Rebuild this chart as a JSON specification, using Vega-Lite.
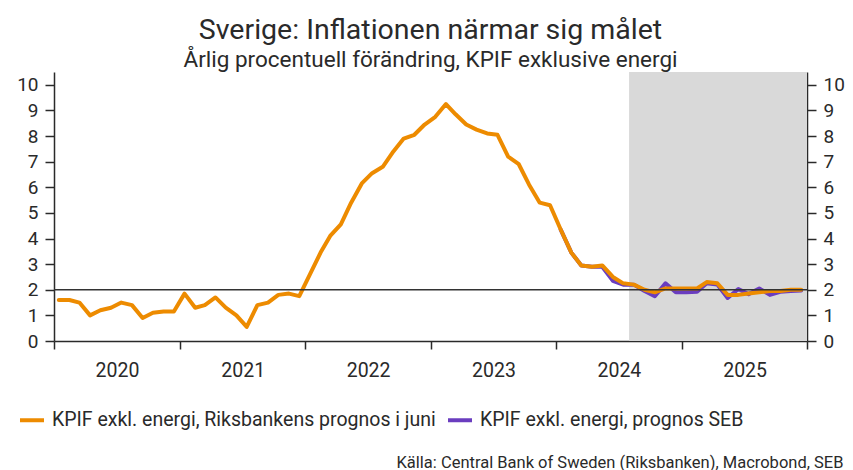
{
  "$schema": "https://vega.github.io/schema/vega-lite/v6.json",
  "width": 753,
  "height": 269,
  "autosize": {"type": "none"},
  "padding": {"left": 54, "top": 72, "right": 46, "bottom": 129},
  "background": "white",
  "title": {
    "text": "Sverige: Inflationen närmar sig målet",
    "subtitle": "Årlig procentuell förändring, KPIF exklusive energi",
    "anchor": "middle",
    "font": "Roboto",
    "fontSize": 28.5,
    "fontWeight": "normal",
    "color": "#2a2a2a",
    "subtitleFont": "Roboto",
    "subtitleFontSize": 22.5,
    "subtitleColor": "#2a2a2a",
    "subtitlePadding": 4,
    "offset": 1
  },
  "config": {"view": {"stroke": null}, "font": "Roboto"},
  "datasets": {
    "shade": [{"start": "2024-08-01", "end": "2026-01-01"}],
    "target": [{"mal": 2}],
    "kpif": [
      {"datum": "2020-01-15", "serie": "KPIF exkl. energi, Riksbankens prognos i juni", "varde": 1.6},
      {"datum": "2020-02-15", "serie": "KPIF exkl. energi, Riksbankens prognos i juni", "varde": 1.6},
      {"datum": "2020-03-15", "serie": "KPIF exkl. energi, Riksbankens prognos i juni", "varde": 1.5},
      {"datum": "2020-04-15", "serie": "KPIF exkl. energi, Riksbankens prognos i juni", "varde": 1.0},
      {"datum": "2020-05-15", "serie": "KPIF exkl. energi, Riksbankens prognos i juni", "varde": 1.2},
      {"datum": "2020-06-15", "serie": "KPIF exkl. energi, Riksbankens prognos i juni", "varde": 1.3},
      {"datum": "2020-07-15", "serie": "KPIF exkl. energi, Riksbankens prognos i juni", "varde": 1.5},
      {"datum": "2020-08-15", "serie": "KPIF exkl. energi, Riksbankens prognos i juni", "varde": 1.4},
      {"datum": "2020-09-15", "serie": "KPIF exkl. energi, Riksbankens prognos i juni", "varde": 0.9},
      {"datum": "2020-10-15", "serie": "KPIF exkl. energi, Riksbankens prognos i juni", "varde": 1.1},
      {"datum": "2020-11-15", "serie": "KPIF exkl. energi, Riksbankens prognos i juni", "varde": 1.15},
      {"datum": "2020-12-15", "serie": "KPIF exkl. energi, Riksbankens prognos i juni", "varde": 1.15},
      {"datum": "2021-01-15", "serie": "KPIF exkl. energi, Riksbankens prognos i juni", "varde": 1.85},
      {"datum": "2021-02-15", "serie": "KPIF exkl. energi, Riksbankens prognos i juni", "varde": 1.3},
      {"datum": "2021-03-15", "serie": "KPIF exkl. energi, Riksbankens prognos i juni", "varde": 1.4},
      {"datum": "2021-04-15", "serie": "KPIF exkl. energi, Riksbankens prognos i juni", "varde": 1.7},
      {"datum": "2021-05-15", "serie": "KPIF exkl. energi, Riksbankens prognos i juni", "varde": 1.3},
      {"datum": "2021-06-15", "serie": "KPIF exkl. energi, Riksbankens prognos i juni", "varde": 1.0},
      {"datum": "2021-07-15", "serie": "KPIF exkl. energi, Riksbankens prognos i juni", "varde": 0.55},
      {"datum": "2021-08-15", "serie": "KPIF exkl. energi, Riksbankens prognos i juni", "varde": 1.4},
      {"datum": "2021-09-15", "serie": "KPIF exkl. energi, Riksbankens prognos i juni", "varde": 1.5},
      {"datum": "2021-10-15", "serie": "KPIF exkl. energi, Riksbankens prognos i juni", "varde": 1.8},
      {"datum": "2021-11-15", "serie": "KPIF exkl. energi, Riksbankens prognos i juni", "varde": 1.85},
      {"datum": "2021-12-15", "serie": "KPIF exkl. energi, Riksbankens prognos i juni", "varde": 1.75},
      {"datum": "2022-01-15", "serie": "KPIF exkl. energi, Riksbankens prognos i juni", "varde": 2.6},
      {"datum": "2022-02-15", "serie": "KPIF exkl. energi, Riksbankens prognos i juni", "varde": 3.45},
      {"datum": "2022-03-15", "serie": "KPIF exkl. energi, Riksbankens prognos i juni", "varde": 4.1},
      {"datum": "2022-04-15", "serie": "KPIF exkl. energi, Riksbankens prognos i juni", "varde": 4.55},
      {"datum": "2022-05-15", "serie": "KPIF exkl. energi, Riksbankens prognos i juni", "varde": 5.4},
      {"datum": "2022-06-15", "serie": "KPIF exkl. energi, Riksbankens prognos i juni", "varde": 6.15},
      {"datum": "2022-07-15", "serie": "KPIF exkl. energi, Riksbankens prognos i juni", "varde": 6.55},
      {"datum": "2022-08-15", "serie": "KPIF exkl. energi, Riksbankens prognos i juni", "varde": 6.8},
      {"datum": "2022-09-15", "serie": "KPIF exkl. energi, Riksbankens prognos i juni", "varde": 7.4},
      {"datum": "2022-10-15", "serie": "KPIF exkl. energi, Riksbankens prognos i juni", "varde": 7.9},
      {"datum": "2022-11-15", "serie": "KPIF exkl. energi, Riksbankens prognos i juni", "varde": 8.05},
      {"datum": "2022-12-15", "serie": "KPIF exkl. energi, Riksbankens prognos i juni", "varde": 8.45},
      {"datum": "2023-01-15", "serie": "KPIF exkl. energi, Riksbankens prognos i juni", "varde": 8.75},
      {"datum": "2023-02-15", "serie": "KPIF exkl. energi, Riksbankens prognos i juni", "varde": 9.25},
      {"datum": "2023-03-15", "serie": "KPIF exkl. energi, Riksbankens prognos i juni", "varde": 8.85},
      {"datum": "2023-04-15", "serie": "KPIF exkl. energi, Riksbankens prognos i juni", "varde": 8.45},
      {"datum": "2023-05-15", "serie": "KPIF exkl. energi, Riksbankens prognos i juni", "varde": 8.25},
      {"datum": "2023-06-15", "serie": "KPIF exkl. energi, Riksbankens prognos i juni", "varde": 8.1},
      {"datum": "2023-07-15", "serie": "KPIF exkl. energi, Riksbankens prognos i juni", "varde": 8.05},
      {"datum": "2023-08-15", "serie": "KPIF exkl. energi, Riksbankens prognos i juni", "varde": 7.2},
      {"datum": "2023-09-15", "serie": "KPIF exkl. energi, Riksbankens prognos i juni", "varde": 6.9},
      {"datum": "2023-10-15", "serie": "KPIF exkl. energi, Riksbankens prognos i juni", "varde": 6.1},
      {"datum": "2023-11-15", "serie": "KPIF exkl. energi, Riksbankens prognos i juni", "varde": 5.4},
      {"datum": "2023-12-15", "serie": "KPIF exkl. energi, Riksbankens prognos i juni", "varde": 5.3},
      {"datum": "2024-01-15", "serie": "KPIF exkl. energi, Riksbankens prognos i juni", "varde": 4.35},
      {"datum": "2024-02-15", "serie": "KPIF exkl. energi, Riksbankens prognos i juni", "varde": 3.45},
      {"datum": "2024-03-15", "serie": "KPIF exkl. energi, Riksbankens prognos i juni", "varde": 2.95},
      {"datum": "2024-04-15", "serie": "KPIF exkl. energi, Riksbankens prognos i juni", "varde": 2.9},
      {"datum": "2024-05-15", "serie": "KPIF exkl. energi, Riksbankens prognos i juni", "varde": 2.95},
      {"datum": "2024-06-15", "serie": "KPIF exkl. energi, Riksbankens prognos i juni", "varde": 2.5},
      {"datum": "2024-07-15", "serie": "KPIF exkl. energi, Riksbankens prognos i juni", "varde": 2.25},
      {"datum": "2024-08-15", "serie": "KPIF exkl. energi, Riksbankens prognos i juni", "varde": 2.2},
      {"datum": "2024-09-15", "serie": "KPIF exkl. energi, Riksbankens prognos i juni", "varde": 2.0},
      {"datum": "2024-10-15", "serie": "KPIF exkl. energi, Riksbankens prognos i juni", "varde": 1.9},
      {"datum": "2024-11-15", "serie": "KPIF exkl. energi, Riksbankens prognos i juni", "varde": 2.05},
      {"datum": "2024-12-15", "serie": "KPIF exkl. energi, Riksbankens prognos i juni", "varde": 2.05},
      {"datum": "2025-01-15", "serie": "KPIF exkl. energi, Riksbankens prognos i juni", "varde": 2.05},
      {"datum": "2025-02-15", "serie": "KPIF exkl. energi, Riksbankens prognos i juni", "varde": 2.05},
      {"datum": "2025-03-15", "serie": "KPIF exkl. energi, Riksbankens prognos i juni", "varde": 2.3},
      {"datum": "2025-04-15", "serie": "KPIF exkl. energi, Riksbankens prognos i juni", "varde": 2.25},
      {"datum": "2025-05-15", "serie": "KPIF exkl. energi, Riksbankens prognos i juni", "varde": 1.8},
      {"datum": "2025-06-15", "serie": "KPIF exkl. energi, Riksbankens prognos i juni", "varde": 1.8},
      {"datum": "2025-07-15", "serie": "KPIF exkl. energi, Riksbankens prognos i juni", "varde": 1.85},
      {"datum": "2025-08-15", "serie": "KPIF exkl. energi, Riksbankens prognos i juni", "varde": 1.9},
      {"datum": "2025-09-15", "serie": "KPIF exkl. energi, Riksbankens prognos i juni", "varde": 1.95},
      {"datum": "2025-10-15", "serie": "KPIF exkl. energi, Riksbankens prognos i juni", "varde": 1.95},
      {"datum": "2025-11-15", "serie": "KPIF exkl. energi, Riksbankens prognos i juni", "varde": 2.0},
      {"datum": "2025-12-15", "serie": "KPIF exkl. energi, Riksbankens prognos i juni", "varde": 2.0},
      {"datum": "2024-01-15", "serie": "KPIF exkl. energi, prognos SEB", "varde": 4.35},
      {"datum": "2024-02-15", "serie": "KPIF exkl. energi, prognos SEB", "varde": 3.45},
      {"datum": "2024-03-15", "serie": "KPIF exkl. energi, prognos SEB", "varde": 2.95},
      {"datum": "2024-04-15", "serie": "KPIF exkl. energi, prognos SEB", "varde": 2.9},
      {"datum": "2024-05-15", "serie": "KPIF exkl. energi, prognos SEB", "varde": 2.9},
      {"datum": "2024-06-15", "serie": "KPIF exkl. energi, prognos SEB", "varde": 2.35},
      {"datum": "2024-07-15", "serie": "KPIF exkl. energi, prognos SEB", "varde": 2.2},
      {"datum": "2024-08-15", "serie": "KPIF exkl. energi, prognos SEB", "varde": 2.2},
      {"datum": "2024-09-15", "serie": "KPIF exkl. energi, prognos SEB", "varde": 1.95},
      {"datum": "2024-10-15", "serie": "KPIF exkl. energi, prognos SEB", "varde": 1.75},
      {"datum": "2024-11-15", "serie": "KPIF exkl. energi, prognos SEB", "varde": 2.25},
      {"datum": "2024-12-15", "serie": "KPIF exkl. energi, prognos SEB", "varde": 1.9},
      {"datum": "2025-01-15", "serie": "KPIF exkl. energi, prognos SEB", "varde": 1.9},
      {"datum": "2025-02-15", "serie": "KPIF exkl. energi, prognos SEB", "varde": 1.92},
      {"datum": "2025-03-15", "serie": "KPIF exkl. energi, prognos SEB", "varde": 2.25},
      {"datum": "2025-04-15", "serie": "KPIF exkl. energi, prognos SEB", "varde": 2.2},
      {"datum": "2025-05-15", "serie": "KPIF exkl. energi, prognos SEB", "varde": 1.68},
      {"datum": "2025-06-15", "serie": "KPIF exkl. energi, prognos SEB", "varde": 2.03},
      {"datum": "2025-07-15", "serie": "KPIF exkl. energi, prognos SEB", "varde": 1.83},
      {"datum": "2025-08-15", "serie": "KPIF exkl. energi, prognos SEB", "varde": 2.05},
      {"datum": "2025-09-15", "serie": "KPIF exkl. energi, prognos SEB", "varde": 1.8},
      {"datum": "2025-10-15", "serie": "KPIF exkl. energi, prognos SEB", "varde": 1.92},
      {"datum": "2025-11-15", "serie": "KPIF exkl. energi, prognos SEB", "varde": 1.95},
      {"datum": "2025-12-15", "serie": "KPIF exkl. energi, prognos SEB", "varde": 1.97}
    ]
  },
  "layer": [
    {
      "data": {"name": "shade"},
      "mark": {"type": "rect", "color": "#d9d9d9"},
      "encoding": {
        "x": {
          "field": "start",
          "type": "temporal",
          "scale": {"type": "utc", "domain": [{"year": 2020, "month": 1, "date": 1, "utc": true}, {"year": 2026, "month": 1, "date": 1, "utc": true}]},
          "axis": {
            "values": [
              {"year": 2020, "month": 1, "date": 1, "utc": true},
              {"year": 2021, "month": 1, "date": 1, "utc": true},
              {"year": 2022, "month": 1, "date": 1, "utc": true},
              {"year": 2023, "month": 1, "date": 1, "utc": true},
              {"year": 2024, "month": 1, "date": 1, "utc": true},
              {"year": 2025, "month": 1, "date": 1, "utc": true},
              {"year": 2026, "month": 1, "date": 1, "utc": true}
            ],
            "labelExpr": "utcFormat(datum.value, '%Y') == '2026' ? '' : utcFormat(datum.value, '%Y')",
            "labelOffset": 63,
            "labelFlush": false,
            "labelOverlap": false,
            "labelFontSize": 19.5,
            "labelColor": "#2a2a2a",
            "labelPadding": 12,
            "tickSize": 8,
            "tickWidth": 1.5,
            "tickColor": "#2a2a2a",
            "domainColor": "#2a2a2a",
            "domainWidth": 1.5,
            "grid": false,
            "title": "Källa: Central Bank of Sweden (Riksbanken), Macrobond, SEB",
            "titleFontSize": 16.5,
            "titleFontWeight": "normal",
            "titleColor": "#2a2a2a",
            "titleAnchor": "end",
            "titleAlign": "right",
            "titleBaseline": "alphabetic",
            "titleX": 789,
            "titleY": 126
          }
        },
        "x2": {"field": "end"}
      }
    },
    {
      "data": {"name": "kpif"},
      "transform": [{"filter": "datum.serie == 'KPIF exkl. energi, prognos SEB'"}],
      "mark": {"type": "line", "strokeWidth": 4, "strokeJoin": "round", "strokeCap": "round"},
      "encoding": {
        "x": {"field": "datum", "type": "temporal"},
        "y": {
          "field": "varde",
          "type": "quantitative",
          "scale": {"domain": [0, 10.5], "nice": false},
          "axis": {
            "orient": "left",
            "values": [0, 1, 2, 3, 4, 5, 6, 7, 8, 9, 10],
            "labelFontSize": 19,
            "labelColor": "#2a2a2a",
            "labelPadding": 7,
            "tickSize": 9,
            "tickWidth": 1.5,
            "tickColor": "#2a2a2a",
            "domainColor": "#2a2a2a",
            "domainWidth": 1.5,
            "grid": false,
            "title": null
          }
        },
        "color": {
          "field": "serie",
          "type": "nominal",
          "scale": {
            "domain": ["KPIF exkl. energi, Riksbankens prognos i juni", "KPIF exkl. energi, prognos SEB"],
            "range": ["#ED8B00", "#6A3DBF"]
          },
          "legend": {
            "orient": "none",
            "legendX": -36,
            "legendY": 334,
            "direction": "horizontal",
            "title": null,
            "symbolType": "stroke",
            "symbolStrokeWidth": 4,
            "symbolSize": 576,
            "labelFontSize": 19.5,
            "labelColor": "#2a2a2a",
            "labelLimit": 600,
            "columnPadding": 4,
            "labelOffset": 6
          }
        }
      }
    },
    {
      "data": {"name": "kpif"},
      "transform": [{"filter": "datum.serie == 'KPIF exkl. energi, Riksbankens prognos i juni'"}],
      "mark": {"type": "line", "strokeWidth": 4, "strokeJoin": "round", "strokeCap": "round"},
      "encoding": {
        "x": {"field": "datum", "type": "temporal"},
        "y": {
          "field": "varde",
          "type": "quantitative",
          "axis": {
            "orient": "right",
            "values": [0, 1, 2, 3, 4, 5, 6, 7, 8, 9, 10],
            "labelFontSize": 19,
            "labelColor": "#2a2a2a",
            "labelPadding": 7,
            "tickSize": 9,
            "tickWidth": 1.5,
            "tickColor": "#2a2a2a",
            "domainColor": "#2a2a2a",
            "domainWidth": 1.5,
            "grid": false,
            "title": null
          }
        },
        "color": {"field": "serie", "type": "nominal"}
      }
    },
    {
      "data": {"name": "target"},
      "mark": {"type": "rule", "color": "#333333", "strokeWidth": 1.5},
      "encoding": {"y": {"field": "mal", "type": "quantitative", "axis": null}}
    }
  ],
  "resolve": {"axis": {"y": "independent"}}
}
